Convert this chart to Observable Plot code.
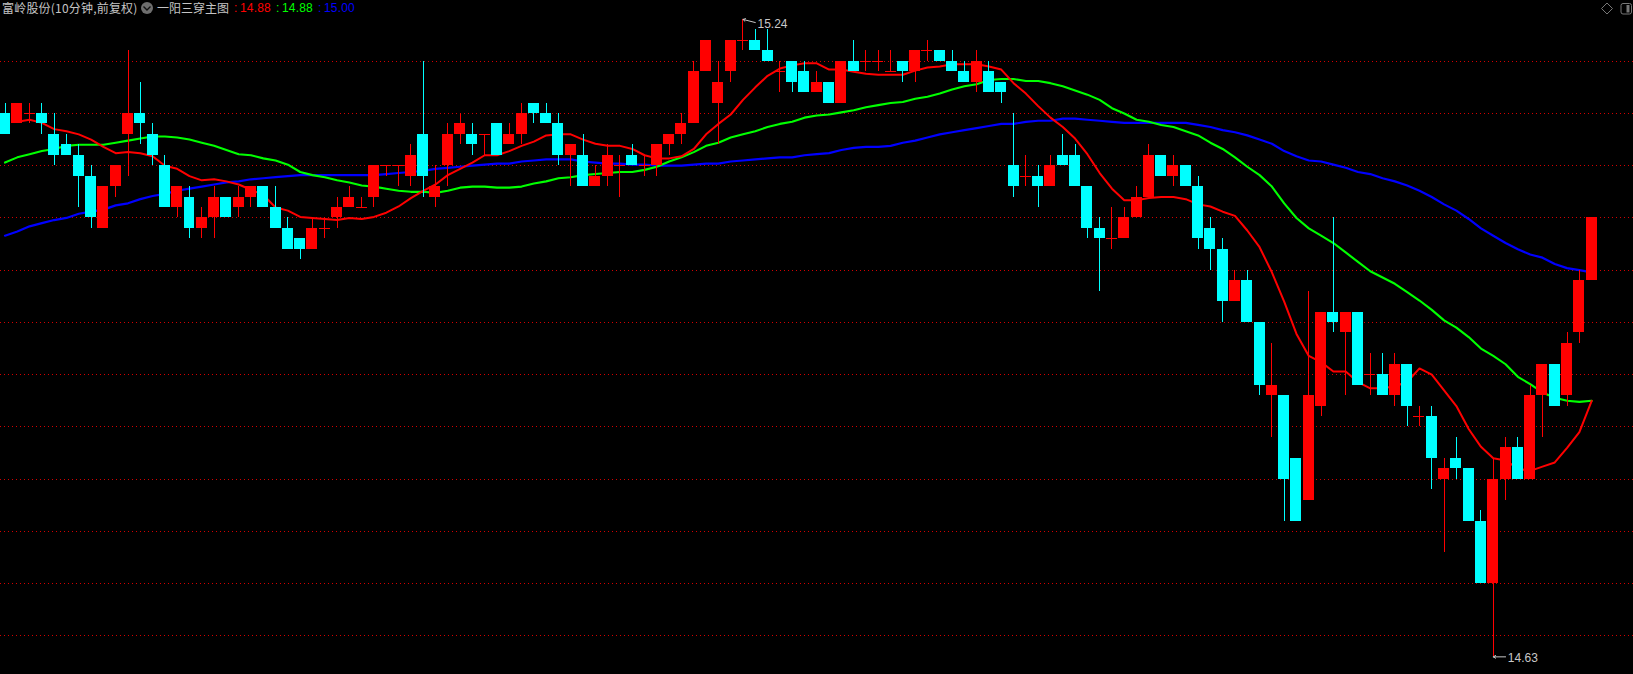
<!DOCTYPE html>
<html lang="zh">
<head>
<meta charset="utf-8">
<script src="https://cdn.jsdelivr.net/npm/d3@7"></script>
<script src="https://cdn.jsdelivr.net/npm/@observablehq/plot@0.6"></script>
<style>
html,body{margin:0;padding:0;background:#000;overflow:hidden}
#wrap{position:relative;width:1633px;height:674px;background:#000}
#wrap svg{display:block}
.t{position:absolute;top:0;font:12px/16px "Noto Sans CJK SC","Liberation Sans",sans-serif;white-space:nowrap;color:#c4c4c4}
.n{font-family:"Liberation Sans",sans-serif;letter-spacing:.15px}
#icons{position:absolute;left:0;top:0;pointer-events:none}
</style>
</head>
<body>
<div id="wrap">
<div id="chart"></div>
<span class="t" style="left:2px;letter-spacing:.2px">富岭股份(10分钟,前复权)</span>
<span class="t" style="left:157px">一阳三穿主图</span>
<span class="t n" style="left:234px;color:#f00">:</span><span class="t n" style="left:240px;color:#f00">14.88</span>
<span class="t n" style="left:276px;color:#0f0">:</span><span class="t n" style="left:282px;color:#0f0">14.88</span>
<span class="t n" style="left:318px;color:#00f">:</span><span class="t n" style="left:324px;color:#00f">15.00</span>
<svg id="icons" width="1633" height="20">
  <circle cx="147" cy="8" r="6" fill="#6e6e6e"/>
  <path d="M143.5 6.5 L147 10 L150.5 6.5" fill="none" stroke="#111" stroke-width="1.4"/>
  <path d="M1607 3 L1612.5 8.5 L1607 14 L1601.5 8.5 Z" fill="none" stroke="#777" stroke-width="1"/>
  <rect x="1621" y="3.5" width="10.5" height="10.5" rx="2" fill="none" stroke="#777" stroke-width="1"/>
  <rect x="1626.5" y="5" width="3" height="7.5" fill="#777"/>
</svg>
</div>
<script>
const opens = [15.15,15.14,15.15,15.15,15.13,15.12,15.11,15.09,15.04,15.08,
15.13,15.15,15.13,15.10,15.06,15.07,15.04,15.05,15.07,15.06,
15.07,15.08,15.06,15.04,15.03,15.02,15.04,15.05,15.06,15.06,
15.07,15.10,15.10,15.09,15.13,15.07,15.10,15.13,15.13,15.13,
15.14,15.12,15.13,15.16,15.15,15.14,15.11,15.11,15.08,15.09,
15.10,15.11,15.10,15.10,15.12,15.13,15.14,15.19,15.16,15.19,
15.22,15.22,15.21,15.19,15.20,15.19,15.17,15.18,15.16,15.20,
15.20,15.20,15.19,15.20,15.19,15.21,15.21,15.20,15.19,15.18,
15.19,15.18,15.10,15.09,15.09,15.08,15.11,15.11,15.08,15.04,
15.03,15.03,15.05,15.07,15.11,15.09,15.10,15.08,15.04,15.02,
14.97,14.99,14.95,14.88,14.88,14.82,14.78,14.87,14.96,14.94,
14.96,14.90,14.90,14.88,14.91,14.86,14.86,14.80,14.82,14.81,
14.76,14.70,14.80,14.83,14.80,14.88,14.91,14.88,14.94,14.99];
const closes = [15.13,15.16,15.15,15.14,15.11,15.11,15.09,15.05,15.08,15.10,
15.15,15.14,15.11,15.06,15.08,15.04,15.05,15.07,15.05,15.07,
15.08,15.06,15.04,15.02,15.02,15.04,15.04,15.06,15.07,15.06,
15.10,15.10,15.10,15.11,15.09,15.08,15.13,15.14,15.12,15.13,
15.11,15.13,15.15,15.15,15.14,15.11,15.12,15.08,15.09,15.11,
15.10,15.10,15.10,15.12,15.13,15.14,15.19,15.22,15.18,15.22,
15.22,15.21,15.20,15.19,15.18,15.17,15.18,15.16,15.20,15.19,
15.20,15.20,15.19,15.19,15.21,15.21,15.20,15.19,15.18,15.20,
15.17,15.17,15.08,15.09,15.08,15.10,15.10,15.08,15.04,15.03,
15.03,15.05,15.07,15.11,15.09,15.10,15.08,15.03,15.02,14.97,
14.99,14.95,14.89,14.89,14.80,14.76,14.88,14.96,14.95,14.96,
14.89,14.90,14.88,14.91,14.87,14.86,14.82,14.81,14.81,14.76,
14.70,14.80,14.83,14.80,14.88,14.91,14.87,14.93,14.99,15.05];
const highs = [15.16,15.16,15.16,15.16,15.15,15.13,15.12,15.10,15.08,15.10,
15.21,15.18,15.14,15.11,15.08,15.08,15.06,15.08,15.07,15.08,
15.08,15.08,15.08,15.05,15.03,15.05,15.05,15.07,15.08,15.07,
15.10,15.10,15.10,15.12,15.20,15.10,15.14,15.15,15.14,15.13,
15.14,15.14,15.16,15.16,15.16,15.15,15.12,15.13,15.10,15.12,
15.11,15.12,15.11,15.12,15.13,15.15,15.20,15.22,15.20,15.22,
15.24,15.23,15.23,15.20,15.20,15.20,15.19,15.18,15.20,15.22,
15.21,15.21,15.21,15.20,15.21,15.22,15.21,15.21,15.20,15.21,
15.20,15.18,15.15,15.11,15.10,15.11,15.13,15.12,15.08,15.05,
15.06,15.06,15.08,15.12,15.11,15.11,15.10,15.09,15.05,15.03,
15.00,15.00,14.95,14.93,14.88,14.82,14.98,14.96,15.05,14.96,
14.96,14.92,14.92,14.92,14.91,14.87,14.87,14.82,14.84,14.81,
14.77,14.82,14.84,14.84,14.89,14.91,14.91,14.94,15.00,15.05];
const lows = [15.13,15.14,15.14,15.13,15.10,15.11,15.06,15.04,15.04,15.07,
15.09,15.12,15.10,15.06,15.05,15.03,15.03,15.03,15.05,15.05,
15.06,15.06,15.04,15.02,15.01,15.02,15.03,15.04,15.06,15.06,
15.06,15.09,15.08,15.08,15.07,15.06,15.08,15.12,15.11,15.11,
15.11,15.12,15.12,15.14,15.14,15.10,15.08,15.08,15.08,15.08,
15.07,15.10,15.09,15.09,15.11,15.12,15.14,15.19,15.12,15.18,
15.21,15.21,15.20,15.17,15.17,15.17,15.17,15.16,15.16,15.19,
15.19,15.19,15.19,15.18,15.18,15.20,15.20,15.19,15.18,15.17,
15.17,15.16,15.07,15.08,15.06,15.08,15.10,15.08,15.03,14.98,
15.02,15.03,15.05,15.07,15.09,15.08,15.08,15.02,15.00,14.95,
14.97,14.95,14.88,14.84,14.76,14.76,14.78,14.86,14.94,14.88,
14.89,14.88,14.88,14.87,14.85,14.85,14.79,14.73,14.80,14.76,
14.70,14.63,14.78,14.80,14.80,14.84,14.87,14.87,14.93,14.99];
const redLine = [null,15.142,15.144,15.141,15.135,15.133,15.130,15.125,15.118,15.112,
15.113,15.112,15.109,15.100,15.097,15.090,15.086,15.087,15.085,15.082,
15.077,15.072,15.060,15.057,15.051,15.050,15.049,15.048,15.050,15.049,
15.051,15.055,15.061,15.069,15.076,15.082,15.091,15.097,15.103,15.110,
15.110,15.114,15.119,15.123,15.129,15.130,15.130,15.125,15.121,15.119,
15.119,15.116,15.110,15.107,15.107,15.109,15.116,15.130,15.140,15.149,
15.163,15.175,15.186,15.193,15.196,15.198,15.198,15.192,15.192,15.190,
15.188,15.187,15.187,15.187,15.191,15.194,15.195,15.197,15.197,15.197,
15.195,15.192,15.179,15.169,15.157,15.146,15.137,15.126,15.111,15.093,
15.078,15.067,15.067,15.069,15.070,15.070,15.068,15.063,15.061,15.056,
15.052,15.038,15.022,14.998,14.970,14.939,14.918,14.912,14.903,14.903,
14.893,14.887,14.887,14.889,14.893,14.906,14.900,14.885,14.870,14.848,
14.831,14.820,14.818,14.810,14.808,14.812,14.816,14.830,14.845,14.875];
const greenLine = [15.103,15.108,15.111,15.114,15.116,15.119,15.120,15.120,15.120,15.122,
15.124,15.126,15.128,15.128,15.127,15.125,15.122,15.119,15.115,15.111,
15.110,15.107,15.105,15.101,15.094,15.091,15.089,15.086,15.084,15.081,
15.080,15.078,15.076,15.075,15.075,15.074,15.076,15.079,15.080,15.080,
15.079,15.079,15.080,15.083,15.085,15.088,15.089,15.091,15.092,15.093,
15.094,15.094,15.096,15.099,15.104,15.108,15.113,15.119,15.122,15.127,
15.130,15.133,15.137,15.140,15.142,15.146,15.148,15.149,15.151,15.153,
15.156,15.158,15.160,15.161,15.164,15.166,15.169,15.173,15.176,15.178,
15.182,15.183,15.183,15.181,15.181,15.179,15.176,15.172,15.168,15.163,
15.155,15.150,15.144,15.142,15.139,15.137,15.133,15.129,15.122,15.116,
15.108,15.099,15.091,15.080,15.064,15.050,15.040,15.033,15.026,15.017,
15.008,14.999,14.993,14.987,14.979,14.971,14.962,14.952,14.945,14.936,
14.925,14.918,14.910,14.898,14.891,14.883,14.878,14.875,14.874,14.875];
const blueLine = [15.033,15.037,15.042,15.045,15.048,15.050,15.054,15.056,15.058,15.062,
15.064,15.068,15.071,15.073,15.076,15.078,15.080,15.082,15.084,15.085,
15.087,15.088,15.089,15.090,15.091,15.091,15.091,15.091,15.091,15.091,
15.091,15.092,15.093,15.094,15.095,15.097,15.098,15.099,15.100,15.101,
15.102,15.102,15.104,15.105,15.106,15.106,15.106,15.104,15.103,15.102,
15.102,15.101,15.101,15.100,15.100,15.100,15.101,15.102,15.102,15.104,
15.105,15.106,15.107,15.108,15.108,15.110,15.111,15.112,15.115,15.117,
15.118,15.118,15.119,15.122,15.124,15.127,15.130,15.132,15.134,15.136,
15.138,15.140,15.140,15.142,15.143,15.143,15.145,15.145,15.144,15.143,
15.142,15.141,15.141,15.141,15.141,15.141,15.141,15.139,15.137,15.134,
15.132,15.129,15.125,15.121,15.114,15.109,15.105,15.104,15.101,15.098,
15.094,15.092,15.088,15.085,15.081,15.076,15.070,15.063,15.057,15.049,
15.040,15.033,15.026,15.020,15.015,15.012,15.006,15.002,15.000,14.998];
const gridPrices = [15.20,15.15,15.10,15.05,15.00,14.95,14.90,14.85,14.80,14.75,14.70,14.65];
const highMark = [{i:60,p:15.24,t:"15.24",drop:0.003}];
const lowMark = [{i:121,p:14.63,t:"14.63",drop:0}];

const RED="#ff0000", CYAN="#00ffff", LABEL="#c8c8c8";
const candles = opens.map((o,i)=>({i,o,c:closes[i],h:highs[i],l:lows[i],
  col: closes[i]<o ? CYAN : RED}));
const solid = candles.filter(d=>d.o!==d.c);
const doji = candles.filter(d=>d.o===d.c);
const line = arr => arr.map((v,i)=>({i,v})).filter(d=>d.v!==null);
const halfBody = 0.447;
const labelOpts = {x:"i",y:"p",text:"t",dx:14.5,textAnchor:"start",fill:LABEL,fontSize:12,fontFamily:"Liberation Sans"};

const chart = Plot.plot({
  width:1633, height:674, margin:0,
  style:{background:"#000",overflow:"visible"},
  x:{type:"linear",domain:[-0.366,132.4],range:[0,1633],axis:null},
  y:{type:"linear",domain:[14.61311,15.25809],range:[674,0],axis:null},
  marks:[
    Plot.ruleY(gridPrices,{stroke:"#d40000",strokeDasharray:"1 3",strokeWidth:1,shapeRendering:"crispEdges"}),
    Plot.line(line(blueLine),{x:"i",y:"v",stroke:"#0000ff",strokeWidth:2.2}),
    Plot.line(line(greenLine),{x:"i",y:"v",stroke:"#00ff00",strokeWidth:2.1}),
    Plot.line(line(redLine),{x:"i",y:"v",stroke:RED,strokeWidth:2}),
    Plot.ruleX(candles,{x:"i",y1:"l",y2:"h",stroke:"col",strokeWidth:1,shapeRendering:"crispEdges"}),
    Plot.rect(solid,{x1:d=>d.i-halfBody,x2:d=>d.i+halfBody,y1:"o",y2:"c",fill:"col",inset:0,shapeRendering:"crispEdges"}),
    Plot.ruleY(doji,{x1:d=>d.i-halfBody,x2:d=>d.i+halfBody,y:"c",stroke:RED,strokeWidth:1,shapeRendering:"crispEdges"}),
    Plot.arrow(highMark.concat(lowMark),{x1:d=>d.i+1,y1:d=>d.p-d.drop,x2:"i",y2:"p",stroke:LABEL,strokeWidth:1,headLength:4,headAngle:60}),
    Plot.text(highMark,{...labelOpts,dy:4.5}),
    Plot.text(lowMark,{...labelOpts,dy:1})
  ]
});
document.getElementById("chart").appendChild(chart);
</script>
</body>
</html>
